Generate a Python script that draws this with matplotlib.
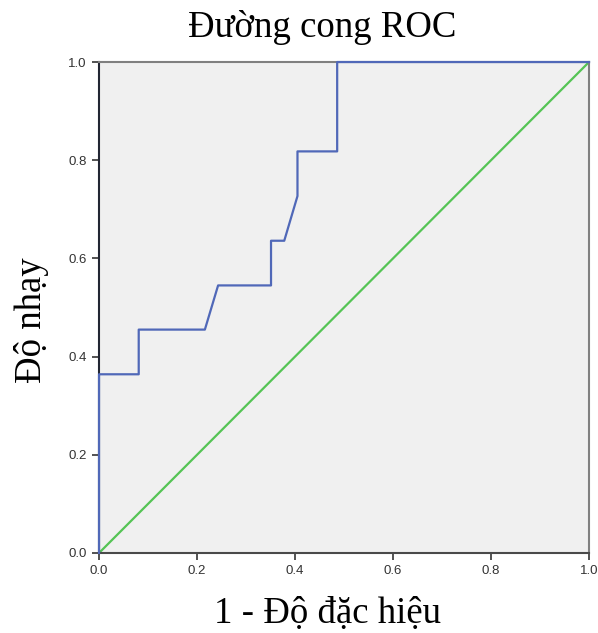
import matplotlib
matplotlib.use("Agg")
import matplotlib.pyplot as plt

# ROC curve points (1 - specificity, sensitivity)
fpr = [0.0, 0.0, 0.081, 0.081, 0.216, 0.243, 0.351, 0.351, 0.378, 0.405, 0.405, 0.486, 0.486, 1.0]
tpr = [0.0, 0.364, 0.364, 0.455, 0.455, 0.545, 0.545, 0.636, 0.636, 0.727, 0.818, 0.818, 1.0, 1.0]
ref_line = [0.0, 1.0]
ticks = [0.0, 0.2, 0.4, 0.6, 0.8, 1.0]

SERIF = ["Liberation Serif", "DejaVu Serif"]
SANS = ["Liberation Sans", "DejaVu Sans"]

fig = plt.figure(figsize=(5.98, 6.33), dpi=100)
ax = fig.add_axes([0.1656, 0.1264, 0.8194, 0.7756])
ax.set_facecolor("#f0f0f0")

ax.plot(ref_line, ref_line, color="#55c455", linewidth=1.6, zorder=2)
ax.plot(fpr, tpr, color="#5068b8", linewidth=1.6, zorder=3, clip_on=False)

ax.set_xlim(0, 1)
ax.set_ylim(0, 1)
ax.set_xticks(ticks)
ax.set_yticks(ticks)
ax.set_xticklabels([f"{t:.1f}" for t in ticks], family=SANS, fontsize=9.5, color="#333333")
ax.set_yticklabels([f"{t:.1f}" for t in ticks], family=SANS, fontsize=9.5, color="#333333")
ax.tick_params(direction="out", length=5, width=1.3, color="#444444", pad=4)

ax.spines["left"].set_color("#222633")
ax.spines["bottom"].set_color("#4a4a4a")
for side in ("top", "right"):
    ax.spines[side].set_color("#808080")
for side in ax.spines:
    ax.spines[side].set_linewidth(1.5)

# titles placed in figure coordinates
fig.text(0.5385, 0.9415, "Đường cong ROC", ha="center", va="baseline",
         family=SERIF, fontsize=26.5)
fig.text(0.547, 0.0158, "1 - Độ đặc hiệu", ha="center", va="baseline",
         family=SERIF, fontsize=26.5)
fig.text(0.052, 0.4945, "Độ nhạy", ha="center", va="center", rotation=90,
         family=SERIF, fontsize=26.5)

fig.savefig("out.png", dpi=100, facecolor="white")
